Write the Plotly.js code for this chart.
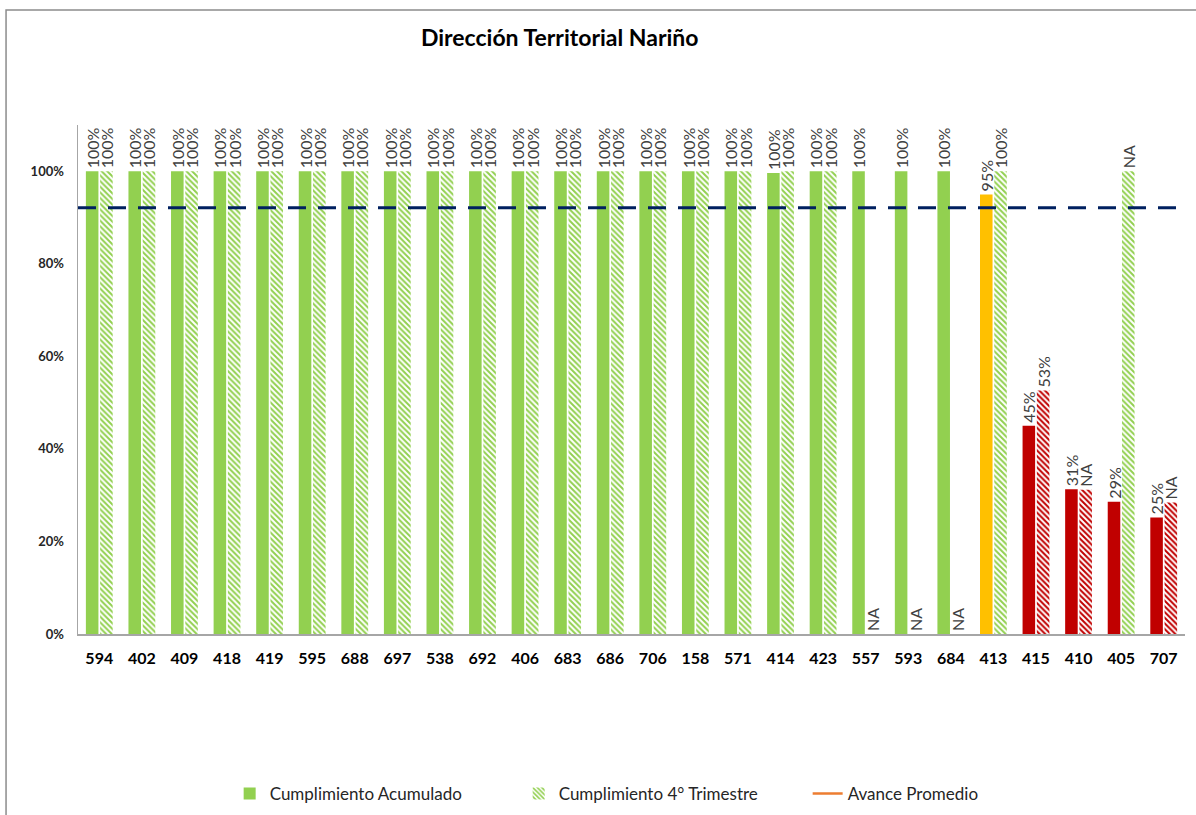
<!DOCTYPE html>
<html>
<head>
<meta charset="utf-8">
<script src="https://cdn.plot.ly/plotly-3.0.1.min.js"></script>
<style>
  html, body { margin: 0; padding: 0; background: white; }
  #plot { width: 1196px; height: 815px; }
</style>
</head>
<body>
<div id="plot"></div>
<script>
// dependencias de la Dirección Territorial
const codigos = ['594','402','409','418','419','595','688','697','538','692','406','683','686','706',
                 '158','571','414','423','557','593','684','413','415','410','405','707'];

// Cumplimiento acumulado (fracción)
const acumulado = [1,1,1,1,1,1,1,1,1,1,1,1,1,1,1,1,0.996,1,1,1,1,0.95,0.45,0.313,0.286,0.252];
const acumLabels = ['100%','100%','100%','100%','100%','100%','100%','100%','100%','100%','100%','100%','100%','100%',
                    '100%','100%','100%','100%','100%','100%','100%','95%','45%','31%','29%','25%'];
const acumColors = ['#92D050','#92D050','#92D050','#92D050','#92D050','#92D050','#92D050','#92D050','#92D050','#92D050',
                    '#92D050','#92D050','#92D050','#92D050','#92D050','#92D050','#92D050','#92D050','#92D050','#92D050',
                    '#92D050','#FFC000','#C00000','#C00000','#C00000','#C00000'];

// Cumplimiento 4° trimestre
const trimestre = [1,1,1,1,1,1,1,1,1,1,1,1,1,1,1,1,1,1,0,0,0,1,0.526,0.312,1,0.284];
const trimLabels = ['100%','100%','100%','100%','100%','100%','100%','100%','100%','100%','100%','100%','100%','100%',
                    '100%','100%','100%','100%','NA','NA','NA','100%','53%','NA','NA','NA'];
const trimColors = ['#92D050','#92D050','#92D050','#92D050','#92D050','#92D050','#92D050','#92D050','#92D050','#92D050',
                    '#92D050','#92D050','#92D050','#92D050','#92D050','#92D050','#92D050','#92D050','#92D050','#92D050',
                    '#92D050','#92D050','#C00000','#C00000','#92D050','#C00000'];

const avancePromedio = 0.921;

const FONT = 'Lato, "Open Sans", sans-serif';

const barText = {
  textposition: 'outside', textangle: -90, constraintext: 'none', cliponaxis: false,
  textfont: { family: FONT, size: 16, color: '#404040' }
};

const traces = [
  Object.assign({
    type: 'bar', name: 'Cumplimiento Acumulado', x: codigos, y: acumulado, text: acumLabels,
    marker: { color: acumColors }, hoverinfo: 'x+y'
  }, barText),
  Object.assign({
    type: 'bar', name: 'Cumplimiento 4° Trimestre', x: codigos, y: trimestre, text: trimLabels,
    marker: { color: trimColors, pattern: { shape: '\\', fillmode: 'replace', bgcolor: 'white', size: 4, solidity: 0.5 } },
    hoverinfo: 'x+y'
  }, barText),
  { type: 'scatter', mode: 'lines', x: [0, 1], y: [avancePromedio, avancePromedio], xaxis: 'x2',
    line: { color: '#002060', width: 3, dash: '18px,12px' }, showlegend: false, hoverinfo: 'skip' },
  { type: 'scatter', mode: 'lines', name: 'Avance Promedio', x: [null], y: [null],
    line: { color: '#ED7D31', width: 2.5 } }
];

const layout = {
  width: 1196, height: 815,
  margin: { l: 78, r: 11, t: 125, b: 181, autoexpand: false },
  paper_bgcolor: 'white', plot_bgcolor: 'white',
  font: { family: FONT, color: '#404040' },
  title: { text: '<b>Dirección Territorial Nariño</b>', x: 0.468, xanchor: 'center', y: 0.953, yanchor: 'middle',
           font: { family: FONT, size: 23, color: '#000000' } },
  barmode: 'group', bargap: 0.33, bargroupgap: 0.12,
  xaxis: { type: 'category', showgrid: false, showline: true, linecolor: '#A6A6A6', linewidth: 1.5,
           ticks: '', ticklabelstandoff: 9,
           tickfont: { family: FONT, size: 16, color: '#000000', weight: 'bold' }, fixedrange: true },
  xaxis2: { overlaying: 'x', range: [0, 1], visible: false, fixedrange: true },
  yaxis: { range: [0, 1.1], tickvals: [0, 0.2, 0.4, 0.6, 0.8, 1], tickformat: '.0%', showgrid: false,
           zeroline: false, showline: true, linecolor: '#A6A6A6', linewidth: 1.5, ticks: '', ticklabelstandoff: 10,
           tickfont: { family: FONT, size: 13, color: '#262626', weight: 'bold' }, fixedrange: true },
  legend: { orientation: 'h', x: 0.137, xanchor: 'left', y: -0.314, yanchor: 'middle',
            font: { family: FONT, size: 17, color: '#262626' }, entrywidth: 244, itemwidth: 30 },
  shapes: [
    { type: 'rect', xref: 'paper', yref: 'paper', x0: -0.065, x1: 1.2, y0: -0.6, y1: 1.226,
      line: { color: '#8C8C8C', width: 1.5 }, fillcolor: 'rgba(0,0,0,0)', layer: 'below' }
  ]
};

Plotly.newPlot('plot', traces, layout, { displayModeBar: false, staticPlot: true });
</script>
</body>
</html>
